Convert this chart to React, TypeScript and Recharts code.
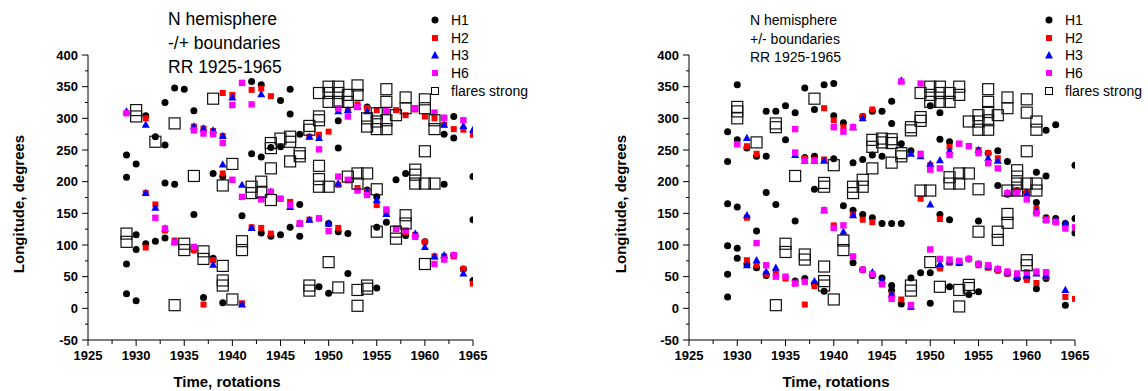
import React from 'react';
import { ScatterChart, Scatter, XAxis, YAxis } from 'recharts';

type P = [number, number];

// ---- left panel: -/+ boundaries ----
const leftH1: P[] = [
  [1929, 242], [1929, 207], [1929, 70], [1929, 23], [1930, 228], [1930, 116], [1930, 93], [1930, 12],
  [1931, 304], [1931, 102], [1932, 271], [1932, 106], [1933, 325], [1933, 258], [1933, 198], [1933, 111],
  [1934, 348], [1934, 196], [1935, 346], [1936, 312], [1936, 148], [1936, 92], [1937, 17], [1938, 213],
  [1938, 79], [1939, 208], [1939, 9], [1941, 146], [1942, 358], [1942, 244], [1943, 353], [1943, 239],
  [1943, 119], [1944, 254], [1944, 114], [1945, 328], [1945, 255], [1945, 116], [1946, 346], [1946, 307],
  [1946, 128], [1947, 275], [1947, 164], [1947, 114], [1949, 34], [1950, 134], [1950, 24], [1951, 296],
  [1951, 253], [1951, 121], [1952, 118], [1952, 55], [1954, 318], [1954, 187], [1955, 176], [1955, 128],
  [1955, 32], [1956, 136], [1957, 203], [1958, 213], [1958, 115], [1960, 105], [1962, 275], [1962, 196],
  [1963, 303], [1963, 269], [1963, 84], [1964, 62], [1965, 208], [1965, 140], [1965, 44],
];
const leftH2: P[] = [
  [1931, 300], [1931, 182], [1931, 96], [1932, 164], [1933, 123], [1934, 107], [1936, 287], [1936, 92],
  [1937, 284], [1937, 6], [1938, 280], [1938, 76], [1939, 340], [1939, 272], [1939, 213], [1940, 337],
  [1941, 8], [1942, 345], [1942, 128], [1943, 347], [1943, 127], [1944, 335], [1944, 118], [1945, 173],
  [1946, 168], [1947, 134], [1948, 271], [1948, 140], [1949, 274], [1949, 142], [1950, 279], [1951, 316],
  [1951, 195], [1951, 127], [1952, 313], [1952, 202], [1953, 322], [1953, 190], [1954, 316], [1954, 184],
  [1955, 313], [1955, 163], [1956, 311], [1956, 150], [1957, 313], [1957, 125], [1958, 305], [1958, 120],
  [1959, 314], [1959, 116], [1960, 303], [1960, 105], [1961, 300], [1961, 82], [1962, 290], [1962, 82],
  [1963, 283], [1963, 82], [1964, 282], [1964, 62], [1965, 274], [1965, 39],
];
const leftH3: P[] = [
  [1929, 311], [1931, 290], [1931, 182], [1932, 159], [1933, 126], [1934, 105], [1936, 287], [1937, 284],
  [1938, 281], [1938, 69], [1939, 272], [1939, 227], [1940, 333], [1941, 195], [1941, 6], [1942, 127],
  [1943, 338], [1944, 184], [1946, 160], [1947, 134], [1948, 271], [1948, 140], [1949, 269], [1950, 134],
  [1951, 311], [1951, 197], [1952, 313], [1953, 318], [1954, 311], [1954, 184], [1955, 171], [1956, 149],
  [1959, 118], [1960, 97], [1961, 82], [1962, 290], [1962, 84], [1964, 288], [1964, 55], [1965, 282],
];
const leftH6: P[] = [
  [1929, 308], [1932, 143], [1933, 126], [1934, 104], [1936, 281], [1936, 97], [1937, 276], [1938, 275],
  [1939, 261], [1940, 321], [1940, 203], [1941, 356], [1941, 176], [1942, 322], [1943, 172], [1944, 184],
  [1945, 173], [1946, 163], [1947, 134], [1949, 251], [1949, 142], [1950, 122], [1951, 316], [1951, 208],
  [1952, 303], [1952, 203], [1953, 318], [1953, 186], [1954, 179], [1956, 311], [1956, 156], [1957, 126],
  [1958, 123], [1959, 316], [1959, 113], [1961, 309], [1961, 70], [1962, 301], [1962, 77], [1963, 84],
  [1964, 297],
];
const leftFlares: P[] = [
  [1929, 118], [1929, 105], [1930, 313], [1930, 303], [1932, 263], [1934, 292], [1934, 5], [1935, 102],
  [1935, 92], [1936, 209], [1937, 90], [1937, 78], [1938, 331], [1939, 194], [1939, 67], [1939, 44],
  [1939, 36], [1940, 228], [1940, 14], [1941, 106], [1941, 92], [1942, 192], [1942, 182], [1943, 200],
  [1943, 184], [1944, 221], [1944, 261], [1944, 253], [1944, 171], [1945, 268], [1946, 271], [1946, 263],
  [1946, 232], [1947, 245], [1947, 240], [1948, 288], [1948, 282], [1948, 36], [1948, 28], [1949, 340],
  [1949, 303], [1949, 297], [1949, 225], [1949, 204], [1949, 192], [1950, 350], [1950, 340], [1950, 326],
  [1950, 192], [1950, 73], [1951, 350], [1951, 340], [1951, 326], [1951, 33], [1952, 337], [1952, 326],
  [1952, 208], [1953, 352], [1953, 337], [1953, 213], [1953, 197], [1953, 29], [1953, 4], [1954, 300],
  [1954, 287], [1954, 213], [1954, 36], [1954, 31], [1955, 308], [1955, 295], [1955, 283], [1955, 188],
  [1955, 121], [1956, 346], [1956, 326], [1956, 297], [1956, 283], [1957, 305], [1957, 121], [1957, 110],
  [1958, 333], [1958, 316], [1958, 147], [1958, 134], [1959, 219], [1959, 211], [1959, 197], [1960, 330],
  [1960, 316], [1960, 248], [1960, 197], [1960, 70], [1961, 297], [1961, 283], [1961, 197],
];

// ---- right panel: +/- boundaries ----
const rightH1: P[] = [
  [1929, 279], [1929, 232], [1929, 165], [1929, 99], [1929, 54], [1929, 18], [1930, 353], [1930, 266],
  [1930, 160], [1930, 95], [1930, 79], [1931, 253], [1931, 70], [1932, 240], [1932, 122], [1932, 64],
  [1933, 311], [1933, 240], [1933, 183], [1933, 52], [1934, 311], [1934, 164], [1935, 320], [1935, 266],
  [1936, 309], [1936, 138], [1936, 43], [1937, 348], [1937, 238], [1937, 47], [1938, 314], [1938, 240],
  [1938, 188], [1938, 39], [1939, 353], [1939, 27], [1940, 355], [1940, 304], [1940, 236], [1941, 293],
  [1941, 162], [1942, 230], [1942, 155], [1942, 72], [1943, 303], [1943, 235], [1943, 148], [1943, 61],
  [1944, 311], [1944, 242], [1944, 143], [1944, 52], [1945, 311], [1945, 240], [1945, 134], [1945, 48],
  [1946, 327], [1946, 292], [1946, 134], [1946, 36], [1946, 28], [1947, 260], [1947, 134], [1947, 7],
  [1948, 249], [1948, 48], [1949, 56], [1950, 320], [1950, 56], [1950, 8], [1951, 309], [1951, 267],
  [1951, 148], [1951, 65], [1952, 263], [1952, 140], [1952, 34], [1953, 72], [1954, 78], [1954, 22],
  [1955, 138], [1955, 70], [1955, 26], [1956, 245], [1956, 66], [1957, 249], [1957, 194], [1957, 60],
  [1958, 232], [1958, 180], [1958, 55], [1959, 186], [1959, 47], [1960, 183], [1960, 48], [1961, 215],
  [1961, 167], [1961, 31], [1962, 281], [1962, 209], [1962, 143], [1962, 47], [1963, 290], [1963, 142],
  [1964, 134], [1964, 5], [1965, 226], [1965, 142], [1965, 119],
];
const rightH2: P[] = [
  [1931, 256], [1931, 143], [1931, 76], [1932, 244], [1932, 68], [1933, 54], [1934, 56], [1935, 47],
  [1936, 41], [1937, 237], [1937, 6], [1938, 235], [1938, 35], [1939, 316], [1939, 235], [1939, 155],
  [1940, 297], [1940, 131], [1941, 286], [1942, 148], [1943, 303], [1943, 140], [1944, 314], [1944, 136],
  [1946, 22], [1947, 14], [1948, 2], [1949, 173], [1950, 226], [1951, 141], [1951, 63], [1952, 255],
  [1952, 72], [1953, 72], [1955, 250], [1955, 68], [1956, 245], [1956, 64], [1957, 237], [1957, 60],
  [1958, 55], [1959, 186], [1959, 50], [1960, 182], [1960, 45], [1961, 157], [1961, 40], [1962, 141],
  [1962, 50], [1963, 138], [1964, 18], [1965, 15],
];
const rightH3: P[] = [
  [1931, 269], [1931, 147], [1931, 68], [1932, 76], [1933, 58], [1934, 64], [1936, 242], [1936, 41],
  [1937, 233], [1938, 233], [1938, 43], [1939, 233], [1939, 155], [1941, 121], [1942, 286], [1942, 147],
  [1943, 300], [1944, 57], [1945, 44], [1946, 22], [1947, 360], [1948, 244], [1948, 3], [1949, 240],
  [1950, 228], [1950, 164], [1951, 234], [1951, 70], [1952, 249], [1952, 74], [1953, 72], [1955, 250],
  [1956, 237], [1956, 66], [1957, 233], [1957, 62], [1958, 182], [1958, 57], [1959, 50], [1960, 181],
  [1960, 52], [1961, 154], [1961, 55], [1962, 141], [1962, 52], [1963, 139], [1964, 134], [1964, 29],
];
const rightH6: P[] = [
  [1930, 259], [1932, 103], [1933, 68], [1934, 50], [1935, 50], [1936, 283], [1936, 246], [1936, 39],
  [1937, 233], [1937, 42], [1938, 233], [1939, 155], [1940, 286], [1940, 127], [1941, 279], [1941, 131],
  [1942, 286], [1942, 82], [1943, 61], [1944, 54], [1945, 38], [1946, 15], [1947, 358], [1948, 5],
  [1949, 355], [1949, 244], [1950, 219], [1950, 93], [1951, 221], [1951, 78], [1952, 242], [1952, 77],
  [1953, 260], [1953, 75], [1954, 256], [1954, 78], [1955, 245], [1955, 70], [1956, 229], [1956, 68],
  [1957, 221], [1957, 62], [1958, 182], [1958, 58], [1959, 182], [1959, 55], [1960, 172], [1960, 57],
  [1961, 150], [1961, 58], [1962, 139], [1962, 57], [1963, 136], [1964, 126], [1965, 128],
];
const rightFlares: P[] = [
  [1930, 318], [1930, 311], [1930, 300], [1932, 262], [1934, 292], [1934, 286], [1934, 5], [1935, 102],
  [1935, 89], [1936, 209], [1937, 85], [1937, 77], [1938, 331], [1939, 198], [1939, 192], [1939, 66],
  [1939, 43], [1939, 36], [1940, 226], [1940, 14], [1941, 107], [1941, 92], [1942, 192], [1942, 182],
  [1943, 203], [1943, 192], [1944, 221], [1944, 266], [1944, 255], [1945, 268], [1945, 262], [1946, 267],
  [1946, 261], [1946, 230], [1947, 245], [1947, 240], [1948, 286], [1948, 281], [1948, 36], [1948, 28],
  [1949, 340], [1949, 302], [1949, 296], [1949, 186], [1950, 350], [1950, 337], [1950, 326], [1950, 186],
  [1950, 73], [1951, 350], [1951, 340], [1951, 326], [1951, 34], [1952, 340], [1952, 326], [1952, 207],
  [1952, 197], [1953, 350], [1953, 337], [1953, 213], [1953, 197], [1953, 29], [1953, 3], [1954, 295],
  [1954, 213], [1954, 37], [1954, 32], [1955, 305], [1955, 295], [1955, 282], [1955, 188], [1955, 121],
  [1956, 346], [1956, 326], [1956, 310], [1956, 297], [1956, 282], [1957, 305], [1957, 121], [1957, 108],
  [1958, 333], [1958, 316], [1958, 149], [1958, 135], [1958, 186], [1959, 218], [1959, 208], [1959, 197],
  [1959, 186], [1960, 330], [1960, 309], [1960, 248], [1960, 197], [1960, 76], [1960, 68], [1961, 295],
  [1961, 282], [1961, 197], [1961, 186],
];

const xTicks = Array.from({ length: 17 }, (_, i) => 1925 + i * 2.5);
const yTicks = Array.from({ length: 19 }, (_, i) => -50 + i * 25);
const legendNames = ['H1', 'H2', 'H3', 'H6', 'flares strong'];

const FONT = '"Liberation Sans", Arial, sans-serif';
const toXY = (d: P[]) => d.map(([x, y]) => ({ x, y }));

const Dot = (p: any) => <circle cx={p.cx} cy={p.cy} r={3.5} fill="#000" />;
const RedSq = (p: any) => <rect x={p.cx - 3} y={p.cy - 3} width={6} height={6} fill="#ff0000" />;
const Tri = (p: any) => <polygon points={`${p.cx},${p.cy - 4.2} ${p.cx - 4},${p.cy + 3} ${p.cx + 4},${p.cy + 3}`} fill="#0000ff" />;
const MagSq = (p: any) => <rect x={p.cx - 3.2} y={p.cy - 3.2} width={6.4} height={6.4} fill="#ff00ff" />;
const Flare = (p: any) => <rect x={p.cx - 5.5} y={p.cy - 5.5} width={11} height={11} fill="none" stroke="#111" strokeWidth={1.2} />;

function XTick({ x, y, payload }: any) {
  const major = payload.value % 5 === 0;
  return (
    <g>
      <line x1={x} y1={y} x2={x} y2={y + (major ? 6 : 4)} stroke="#000" />
      {major && <text x={x} y={y + 15} dy="0.35em" textAnchor="middle" fontSize={13} fontWeight="bold" fontFamily={FONT} fill="#000">{payload.value}</text>}
    </g>
  );
}

function YTick({ x, y, payload }: any) {
  const major = payload.value % 50 === 0;
  return (
    <g>
      <line x1={x} y1={y} x2={x - (major ? 6 : 3)} y2={y} stroke="#000" />
      {major && <text x={x - 10} y={y} dy="0.35em" textAnchor="end" fontSize={13} fontWeight="bold" fontFamily={FONT} fill="#000">{payload.value}</text>}
    </g>
  );
}

function LegendIcon({ i }: { i: number }) {
  return (
    <svg width={10} height={10} style={{ display: 'block' }}>
      {i === 0 && <circle cx={5} cy={5} r={3.5} fill="#000" />}
      {i === 1 && <rect x={2} y={2} width={6} height={6} fill="#ff0000" />}
      {i === 2 && <polygon points="5,1 1,8.5 9,8.5" fill="#0000ff" />}
      {i === 3 && <rect x={2} y={2} width={6} height={6} fill="#ff00ff" />}
      {i === 4 && <rect x={1.5} y={1.5} width={7} height={7} fill="none" stroke="#000" strokeWidth={1} />}
    </svg>
  );
}

interface PanelProps {
  left: number; plotLeft: number; plotRight: number;
  h1: P[]; h2: P[]; h3: P[]; h6: P[]; flares: P[];
  title: string[]; titleX: number; titleSize: number; titleGap: number; titleTop: number;
  legendX: number; yTitleX: number; xTitleX: number;
}

function Panel(p: PanelProps) {
  const W = 574;
  return (
    <div style={{ position: 'absolute', left: p.left, top: 0, width: W, height: 391 }}>
      <ScatterChart width={W} height={391} margin={{ top: 55, right: W - p.plotRight, bottom: 21, left: p.plotLeft - 60 }}>
        <XAxis type="number" dataKey="x" domain={[1925, 1965]} ticks={xTicks} interval={0} height={30}
          axisLine={{ stroke: '#000' }} tickLine={false} tickSize={0} tickMargin={0} tick={<XTick />} allowDataOverflow />
        <YAxis type="number" dataKey="y" domain={[-50, 400]} ticks={yTicks} interval={0} width={60}
          axisLine={{ stroke: '#000' }} tickLine={false} tickSize={0} tickMargin={0} tick={<YTick />} allowDataOverflow />
        <Scatter data={toXY(p.h1)} shape={Dot} isAnimationActive={false} />
        <Scatter data={toXY(p.h2)} shape={RedSq} isAnimationActive={false} />
        <Scatter data={toXY(p.h3)} shape={Tri} isAnimationActive={false} />
        <Scatter data={toXY(p.h6)} shape={MagSq} isAnimationActive={false} />
        <Scatter data={toXY(p.flares)} shape={Flare} isAnimationActive={false} />
      </ScatterChart>
      {p.title.map((t, i) => (
        <div key={t} style={{ position: 'absolute', left: p.titleX, top: p.titleTop + i * p.titleGap, fontSize: p.titleSize, lineHeight: 1, whiteSpace: 'nowrap' }}>{t}</div>
      ))}
      {legendNames.map((n, i) => (
        <div key={n} style={{ position: 'absolute', left: p.legendX - 5, top: 20 + i * 17.7 - 8, height: 16, display: 'flex', alignItems: 'center', whiteSpace: 'nowrap', fontSize: 14 }}>
          <LegendIcon i={i} />
          <span style={{ marginLeft: 11 }}>{n}</span>
        </div>
      ))}
      <div style={{ position: 'absolute', left: p.yTitleX, top: 204, transform: 'translate(-50%, -50%) rotate(-90deg)', fontSize: 15, fontWeight: 'bold', whiteSpace: 'nowrap' }}>
        Longitude, degrees
      </div>
      <div style={{ position: 'absolute', left: p.xTitleX, top: 381, transform: 'translate(-50%, -50%)', fontSize: 15, fontWeight: 'bold', whiteSpace: 'nowrap' }}>
        Time, rotations
      </div>
    </div>
  );
}

export default function App() {
  return (
    <div style={{ position: 'relative', width: 1148, height: 391, background: '#fff', fontFamily: FONT, color: '#000' }}>
      <style>{'body{margin:0}'}</style>
      <Panel left={0} plotLeft={88} plotRight={473} h1={leftH1} h2={leftH2} h3={leftH3} h6={leftH6} flares={leftFlares}
        title={['N hemisphere', '-/+ boundaries', 'RR 1925-1965']} titleX={168} titleSize={17.5} titleGap={24} titleTop={11}
        legendX={435} yTitleX={18} xTitleX={227} />
      <Panel left={574} plotLeft={115} plotRight={501} h1={rightH1} h2={rightH2} h3={rightH3} h6={rightH6} flares={rightFlares}
        title={['N hemisphere', '+/- boundaries', 'RR 1925-1965']} titleX={176} titleSize={14} titleGap={18.5} titleTop={13}
        legendX={475} yTitleX={46} xTitleX={262} />
    </div>
  );
}
